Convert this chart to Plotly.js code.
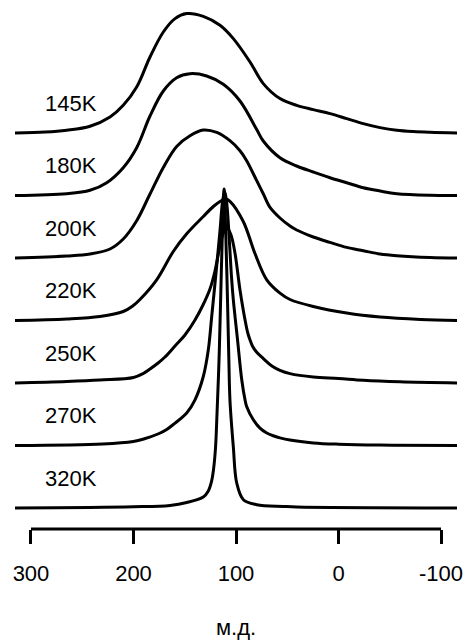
<!DOCTYPE html>
<html>
<head>
<meta charset="utf-8">
<script src="https://cdn.plot.ly/plotly-3.0.1.min.js"></script>
<style>
html,body{margin:0;padding:0;background:#fff;}
#chart{width:465px;height:640px;}
</style>
</head>
<body>
<div id="chart"></div>
<script>
// Temperatures (labels of the stacked spectra) and vertical stacking offsets
const temperatures = ['145K', '180K', '200K', '220K', '250K', '270K', '320K'];
const offsets = [396, 333.5, 271, 208.5, 146, 83.5, 21];

// Chemical shift (ppm) and intensity pairs
const ppm145 = [315.6, 286, 265.2, 242.4, 222.9, 210, 196.9, 183.9, 170.9, 159.5, 148.1, 131.9, 115.6, 102.6, 86.3, 73.4, 57.1, 40.8, 24.6, 8.3, -8, -24.2, -40.5, -56.8, -73, -89.3, -115.6];
const int145 = [0, 0.9, 2.7, 6.7, 16, 27.7, 46, 76, 101, 114.4, 119.4, 116.7, 107.7, 94.4, 71, 49.4, 34.4, 27.7, 23.4, 19.4, 14.4, 9.4, 5.4, 2.7, 1.4, 0.7, 0];

const ppm180 = [315.6, 265.2, 242.4, 226.1, 210, 196.9, 183.9, 170.9, 157.9, 144.9, 128.6, 112.4, 96.1, 79.8, 73.4, 57.1, 40.8, 24.6, 8.3, -8, -24.2, -40.5, -56.8, -89.3, -115.6];
const int180 = [0, 1.8, 5.2, 12.8, 27.8, 47.8, 79.5, 104.5, 117.8, 121.8, 119.5, 111.2, 94.5, 66, 54.5, 37.8, 29.5, 23.5, 17.8, 12.8, 7.8, 4.5, 1.8, 0.2, 0];

const ppm200 = [315.6, 265.2, 242.4, 222.9, 210, 196.9, 183.9, 170.9, 157.9, 144.9, 131.9, 118.8, 105.9, 96.1, 89.6, 79.8, 73.3, 66.8, 57.1, 47.3, 40.8, 24.6, 8.3, -8, -24.2, -40.5, -56.8, -89.3, -115.6];
const int200 = [0, 2, 4, 9, 19, 37.3, 64, 90.6, 111.6, 122.3, 128, 125.6, 117.3, 107.3, 97.3, 77.3, 64, 50.6, 40, 32, 28, 21, 15.6, 10.6, 7.3, 4, 2.3, 0.5, 0];

const ppm220 = [315.6, 265, 232.7, 210, 200.2, 193.7, 177.4, 161.2, 148.1, 131.9, 122.1, 115.6, 109.8, 105.9, 92.9, 81.5, 70, 57.1, 47.3, 24.6, -8, -40.5, -80, -115.6];
const int220 = [0, 1.5, 4, 9, 15, 21, 40.7, 69, 86.7, 104, 114, 119, 121.5, 119.2, 99, 67, 40.7, 27.4, 21, 14, 7.4, 3.4, 1, 0];

const ppm250 = [315.6, 265, 232.7, 200, 190.4, 183.9, 176, 169.3, 159.5, 149.8, 140, 132.2, 125.4, 120.5, 116.6, 112.7, 109.1, 104.9, 101, 96.1, 91, 88.5, 86.3, 84, 80, 73.3, 65, 57.1, 47.3, 24.6, 0, -24.2, -60, -115.6];
const int250 = [0, 1.5, 3, 5.5, 9.5, 14, 20, 26, 37, 48, 63, 78, 94, 112, 132, 149, 156, 148, 130, 93, 62, 50, 43, 37, 31, 24.4, 17, 12.7, 9.4, 6, 4.5, 2.7, 1.2, 0];

const ppm270 = [315.6, 230, 200.2, 190, 175, 167.6, 161.2, 148.1, 140, 131.9, 127, 123.7, 118.8, 115.6, 113, 111, 109, 106.5, 104.5, 102.6, 98.5, 94.4, 91.2, 89.6, 83.1, 76.6, 70, 63, 57.1, 47.3, 24.6, 0, -40, -115.6];
const int270 = [0, 1.5, 4, 6.5, 12, 16, 21, 32.5, 45.7, 69, 95.7, 129, 180, 215, 245, 254, 242, 205, 170, 145.7, 105.7, 65.7, 45.7, 39, 25.7, 17.4, 12.5, 9.5, 7.6, 5.4, 2.6, 1.3, 0.4, 0];

const ppm320 = [315.6, 200.2, 164.4, 148.1, 131.9, 127, 124, 122, 120, 118.5, 116.5, 115, 113.3, 111.6, 110, 108.3, 107, 105.9, 102.6, 99.3, 92.8, 79.8, 53.8, 40.8, -115.6];
const int320 = [0, 1.2, 2.6, 5.5, 11, 17, 26, 38, 60, 95, 150, 208, 275, 319, 275, 208, 150, 108, 61, 25, 8.3, 3.3, 1.6, 1, 0];

// Axis ticks and title
const tickVals = [300, 200, 100, 0, -100];
const tickText = ['300', '200', '100', '0', '-100'];
const xTitle = 'м.д.';

const ppmSets = [ppm145, ppm180, ppm200, ppm220, ppm250, ppm270, ppm320];
const intSets = [int145, int180, int200, int220, int250, int270, int320];

const FONT = 'Liberation Sans, Arial, Helvetica, sans-serif';

const traces = temperatures.map((t, i) => ({
  x: ppmSets[i],
  y: intSets[i].map(v => v + offsets[i]),
  type: 'scatter',
  mode: 'lines',
  name: t,
  line: {color: '#000', width: 3, shape: 'spline', smoothing: 1, simplify: false},
  hoverinfo: 'skip'
}));

const annotations = temperatures.map((t, i) => ({
  x: 288.5, y: offsets[i] + 30, xref: 'x', yref: 'y',
  text: t, showarrow: false, xanchor: 'left', yanchor: 'middle',
  font: {family: FONT, size: 22, color: '#000'}
}));

const layout = {
  width: 465, height: 640,
  margin: {l: 15, r: 8, t: 0, b: 111, pad: 0},
  showlegend: false,
  paper_bgcolor: '#fff', plot_bgcolor: '#fff',
  xaxis: {
    range: [315.6, -115.6],
    tickmode: 'array', tickvals: tickVals, ticktext: tickText,
    ticks: 'outside', ticklen: 14, tickwidth: 3, tickcolor: '#000',
    ticklabelstandoff: 11,
    showgrid: false, zeroline: false, showline: false,
    tickfont: {family: FONT, size: 22, color: '#000'},
    title: {text: xTitle, font: {family: FONT, size: 22, color: '#000'}, standoff: 40},
    fixedrange: true
  },
  yaxis: {range: [0, 529], visible: false, fixedrange: true},
  shapes: [{type: 'line', xref: 'x', yref: 'paper', x0: 300, x1: -100, y0: 0, y1: 0,
            line: {color: '#000', width: 3}}],
  annotations: annotations
};

Plotly.newPlot('chart', traces, layout, {staticPlot: true, displayModeBar: false});
</script>
</body>
</html>
